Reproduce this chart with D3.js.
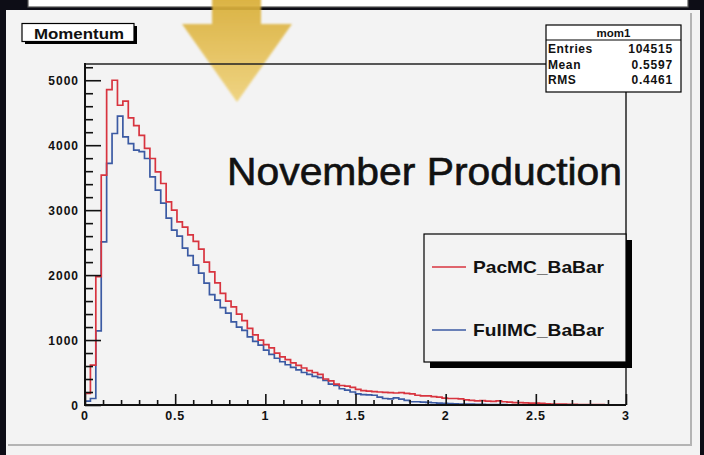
<!DOCTYPE html>
<html>
<head>
<meta charset="utf-8">
<script src="https://cdn.jsdelivr.net/npm/d3@7/dist/d3.min.js"></script>
<style>
  html, body { margin: 0; padding: 0; background: #0d0d16; }
  svg { display: block; }
  text { font-family: "Liberation Sans", Arial, Helvetica, sans-serif; }
</style>
</head>
<body>
<svg id="chart" width="704" height="455"></svg>
<script>
// Momentum histogram: 100 bins from 0 to 3
const xMin = 0, xMax = 3, nBins = 100;

const pacMC = [
  180, 615, 1975, 3540, 4857, 5000, 4615, 4677, 4420, 4300,
  4150, 3950, 3795, 3590, 3410, 3128, 3000, 2820, 2740, 2620,
  2520, 2400, 2200, 2050, 1880, 1720, 1600, 1510, 1400, 1300,
  1180, 1080, 1000, 930, 880, 800, 740, 700, 650, 610,
  570, 530, 500, 470, 400, 370, 320, 300, 290, 270,
  240, 220, 215, 205, 200, 195, 190, 185, 190, 180,
  170, 150, 140, 140, 130, 120, 105, 100, 100, 95,
  80, 70, 65, 66, 60, 55, 62, 50, 45, 38,
  36, 34, 30, 28, 25, 18, 15, 14, 12, 10,
  10, 8, 7, 6, 5, 5, 4, 4, 3, 3
];

const fullMC = [
  60, 100, 1140, 2510, 3720, 4180, 4446, 4128, 4025, 3923,
  3900, 3795, 3512, 3308, 3108, 2877, 2692, 2600, 2415, 2300,
  2154, 2030, 1877, 1700, 1615, 1500, 1415, 1280, 1200, 1150,
  1050, 980, 923, 846, 780, 720, 666, 620, 580, 540,
  500, 470, 440, 420, 380, 320, 300, 250, 230, 200,
  170, 160, 155, 150, 120, 100, 95, 110, 90, 70,
  50, 50, 45, 40, 35, 30, 25, 20, 18, 15,
  14, 12, 10, 10, 8, 7, 6, 5, 4, 4,
  3, 3, 3, 2, 2, 2, 2, 1, 1, 1,
  1, 1, 1, 0, 0, 0, 0, 0, 0, 0
];

const xTicks = [0, 0.5, 1, 1.5, 2, 2.5, 3];
const xTickLabels = ["0", "0.5", "1", "1.5", "2", "2.5", "3"];
const yTicks = [0, 1000, 2000, 3000, 4000, 5000];
const yTickLabels = ["0", "1000", "2000", "3000", "4000", "5000"];

const seriesNames = ["PacMC_BaBar", "FullMC_BaBar"];
const seriesColors = ["#d8343f", "#3b5aa3"];

const statsLabels = ["Entries", "Mean", "RMS"];
const statsValues = ["104515", "0.5597", "0.4461"];

const yMax = 5250;

const svg = d3.select("#chart");

// page and pad
svg.append("rect").attr("x", 0).attr("y", 0).attr("width", 704).attr("height", 455).attr("fill", "#0d0d16");
svg.append("rect").attr("x", 28).attr("y", -2).attr("width", 660).attr("height", 9)
  .attr("fill", "#ffffff").attr("stroke", "#555").attr("stroke-width", 1.2);
svg.append("rect").attr("x", 6).attr("y", 10).attr("width", 694).attr("height", 445).attr("fill", "#f3f3f3");
svg.append("line").attr("x1", 691).attr("x2", 691).attr("y1", 13).attr("y2", 446).attr("stroke", "#b4b4b4").attr("stroke-width", 2);
svg.append("line").attr("x1", 8).attr("x2", 692).attr("y1", 445).attr("y2", 445).attr("stroke", "#b4b4b4").attr("stroke-width", 2);

// golden arrow
const defs = svg.append("defs");
const grad = defs.append("linearGradient").attr("id", "gold").attr("x1", 0).attr("y1", 0).attr("x2", 0).attr("y2", 1);
grad.append("stop").attr("offset", "0%").attr("stop-color", "#d9ad35");
grad.append("stop").attr("offset", "100%").attr("stop-color", "#efd27a");
defs.append("filter").attr("id", "soft").append("feGaussianBlur").attr("stdDeviation", 0.9);
svg.append("path")
  .attr("d", "M212,-2 L261,-2 L261,24 L292,24 L237,102 L182,24 L212,24 Z")
  .attr("fill", "url(#gold)").attr("opacity", 0.92).attr("filter", "url(#soft)");

// frame geometry
const fLeft = 85, fRight = 626, fTop = 64, fBottom = 405;
const x = d3.scaleLinear().domain([xMin, xMax]).range([fLeft, fRight]);
const y = d3.scaleLinear().domain([0, yMax]).range([fBottom, fTop]);

defs.append("clipPath").attr("id", "frameClip")
  .append("rect").attr("x", fLeft).attr("y", fTop - 2).attr("width", fRight - fLeft).attr("height", fBottom - fTop + 2);

// histogram outlines
const binWidth = (xMax - xMin) / nBins;
function stepPoints(vals) {
  const pts = [[xMin, 0]];
  vals.forEach((v, i) => {
    pts.push([xMin + i * binWidth, v]);
    pts.push([xMin + (i + 1) * binWidth, v]);
  });
  pts.push([xMax, 0]);
  return pts;
}
const line = d3.line().x(d => x(d[0])).y(d => y(d[1]));
const gHist = svg.append("g").attr("clip-path", "url(#frameClip)");
[[fullMC, seriesColors[1]], [pacMC, seriesColors[0]]].forEach(([vals, col]) => {
  gHist.append("path").attr("d", line(stepPoints(vals)))
    .attr("fill", "none").attr("stroke", col).attr("stroke-width", 1.7)
    .attr("stroke-linejoin", "miter");
});

// frame top/right
svg.append("line").attr("x1", fLeft).attr("x2", fRight).attr("y1", fTop).attr("y2", fTop).attr("stroke", "#222").attr("stroke-width", 1.5);
svg.append("line").attr("x1", fRight).attr("x2", fRight).attr("y1", fTop).attr("y2", fBottom).attr("stroke", "#222").attr("stroke-width", 1.5);

// axes with ticks drawn inward
const yAxis = d3.axisRight(y).tickValues(d3.range(0, yMax + 1, 200)).tickSize(8).tickFormat("");
const gy = svg.append("g").attr("transform", `translate(${fLeft},0)`).call(yAxis);
gy.selectAll(".tick line").attr("x2", d => (d % 1000 === 0 ? 16 : 8)).attr("stroke", "#111").attr("stroke-width", 1.6);
gy.select(".domain").remove();

const xAxis = d3.axisTop(x).tickValues(d3.range(0, 31).map(i => i / 10)).tickSize(5).tickFormat("");
const gx = svg.append("g").attr("transform", `translate(0,${fBottom})`).call(xAxis);
gx.selectAll(".tick line").attr("y2", (d, i) => (i % 5 === 0 ? -11 : -5)).attr("stroke", "#111").attr("stroke-width", 1.6);
gx.select(".domain").remove();

svg.append("line").attr("x1", fLeft).attr("x2", fLeft).attr("y1", fTop - 1).attr("y2", fBottom + 1).attr("stroke", "#111").attr("stroke-width", 2);
svg.append("line").attr("x1", fLeft - 1).attr("x2", fRight).attr("y1", fBottom).attr("y2", fBottom).attr("stroke", "#111").attr("stroke-width", 2);

// tick labels
svg.append("g").selectAll("text").data(yTicks).join("text")
  .attr("x", 79).attr("y", d => y(d) + 4.5)
  .attr("text-anchor", "end").attr("font-size", 12).attr("font-weight", "bold")
  .attr("letter-spacing", 1).attr("fill", "#111")
  .text((d, i) => yTickLabels[i]);
svg.append("g").selectAll("text").data(xTicks).join("text")
  .attr("x", d => x(d)).attr("y", 420)
  .attr("text-anchor", "middle").attr("font-size", 12.5).attr("font-weight", "bold")
  .attr("letter-spacing", 0.8).attr("fill", "#111")
  .text((d, i) => xTickLabels[i]);

// title box
svg.append("rect").attr("x", 25).attr("y", 26).attr("width", 112).attr("height", 18).attr("fill", "#000");
svg.append("rect").attr("x", 22).attr("y", 23.5).attr("width", 112).attr("height", 18).attr("fill", "#fff").attr("stroke", "#000").attr("stroke-width", 1.2);
svg.append("text").attr("x", 79).attr("y", 38.5).attr("text-anchor", "middle")
  .attr("font-size", 15).attr("font-weight", "bold").attr("fill", "#111")
  .attr("textLength", 90).attr("lengthAdjust", "spacingAndGlyphs").text("Momentum");

// stats box
const sx = 546, sy = 25, sw = 135, sh = 67;
svg.append("rect").attr("x", sx).attr("y", sy).attr("width", sw).attr("height", sh).attr("fill", "#fff").attr("stroke", "#000").attr("stroke-width", 1.2);
svg.append("line").attr("x1", sx).attr("x2", sx + sw).attr("y1", 40).attr("y2", 40).attr("stroke", "#000").attr("stroke-width", 1.2);
svg.append("text").attr("x", sx + sw / 2).attr("y", 36.5).attr("text-anchor", "middle")
  .attr("font-size", 11.5).attr("font-weight", "bold").attr("fill", "#111").text("mom1");
statsLabels.forEach((lab, i) => {
  const ty = 53 + i * 15.5;
  svg.append("text").attr("x", 548).attr("y", ty).attr("font-size", 12).attr("font-weight", "bold")
    .attr("fill", "#111").attr("letter-spacing", 0.6).text(lab);
  svg.append("text").attr("x", 673).attr("y", ty).attr("text-anchor", "end").attr("font-size", 12)
    .attr("font-weight", "bold").attr("fill", "#111").attr("letter-spacing", 0.8).text(statsValues[i]);
});

// annotation
svg.append("text").attr("x", 227).attr("y", 185)
  .attr("font-family", "Lato, 'Open Sans', sans-serif").attr("font-size", 38).attr("fill", "#111")
  .attr("stroke", "#111").attr("stroke-width", 0.6)
  .attr("textLength", 395).attr("lengthAdjust", "spacingAndGlyphs").text("November Production");

// legend
const lx = 424, ly = 234, lw = 202, lh = 128;
svg.append("rect").attr("x", lx + 6).attr("y", ly + 6).attr("width", lw).attr("height", lh).attr("fill", "#000");
svg.append("rect").attr("x", lx).attr("y", ly).attr("width", lw).attr("height", lh).attr("fill", "#f3f3f3").attr("stroke", "#000").attr("stroke-width", 1.2);
const legendY = [267, 330];
seriesNames.forEach((name, i) => {
  svg.append("line").attr("x1", 432).attr("x2", 466).attr("y1", legendY[i]).attr("y2", legendY[i])
    .attr("stroke", seriesColors[i]).attr("stroke-width", 1.6);
  svg.append("text").attr("x", 473).attr("y", legendY[i] + 6).attr("font-size", 17).attr("font-weight", "bold")
    .attr("fill", "#111").attr("textLength", 131).attr("lengthAdjust", "spacingAndGlyphs").text(name);
});
</script>
</body>
</html>
